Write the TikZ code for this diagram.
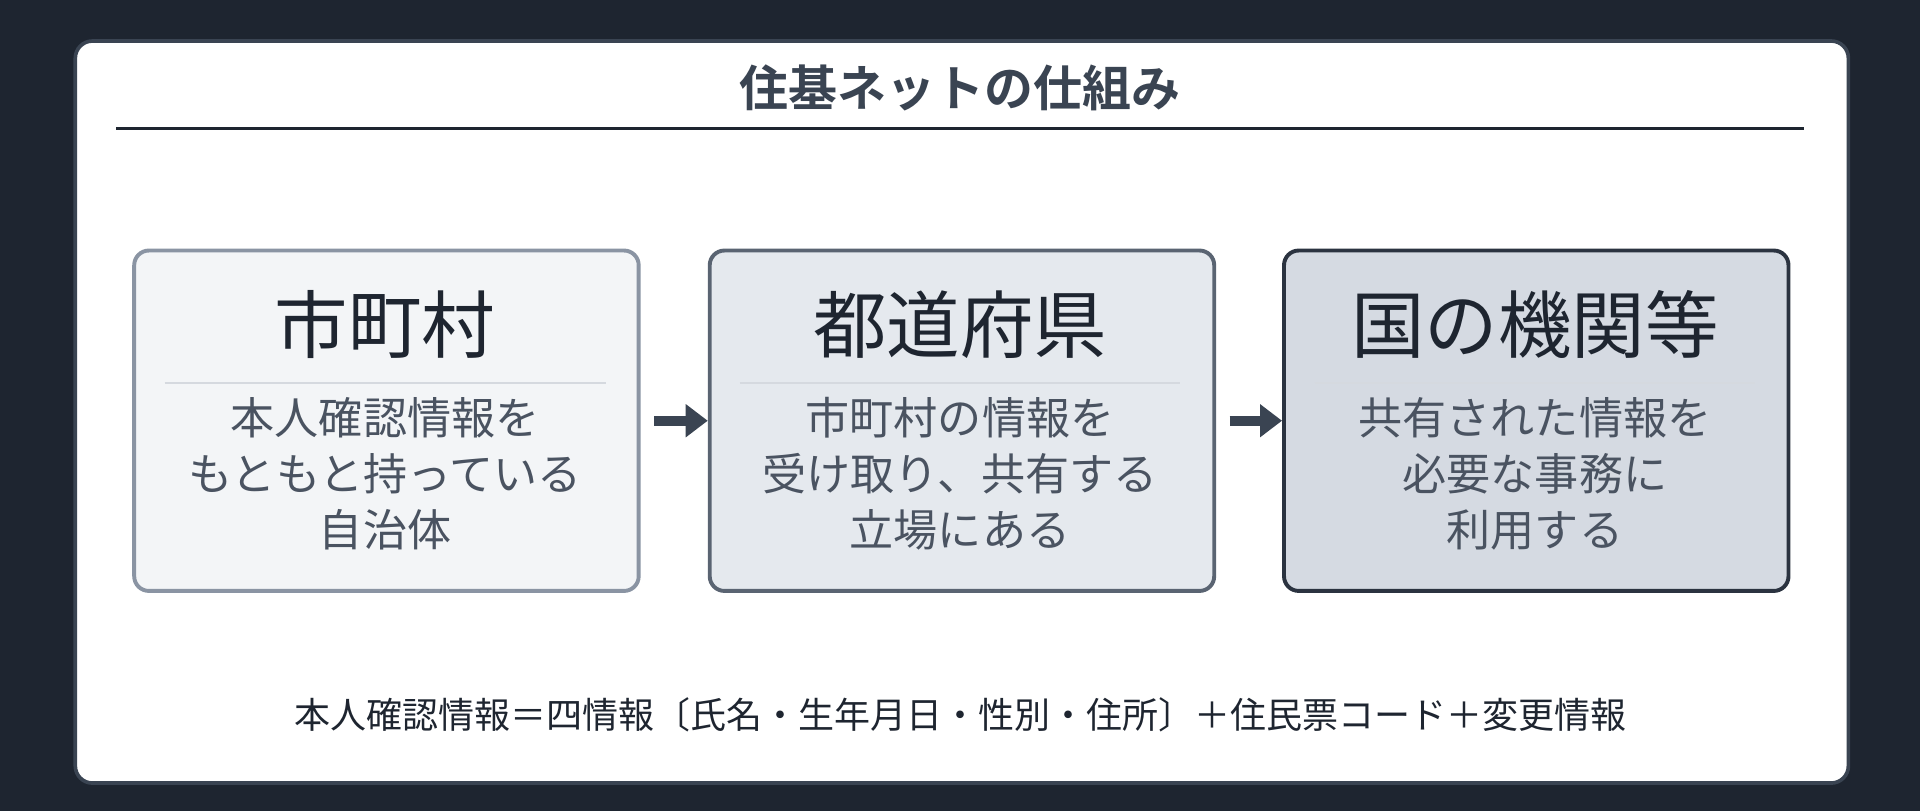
\documentclass[tikz,border=0pt]{standalone}
\usepackage{fontspec}
\setmainfont{Noto Sans CJK JP}
\newfontfamily\cjkb{Noto Sans CJK JP}[BoldFont={Noto Sans CJK JP Bold}]
\usetikzlibrary{arrows.meta}
\definecolor{bg}{HTML}{1E2530}
\definecolor{cardb}{HTML}{3A4452}
\definecolor{txt}{HTML}{1E2530}
\definecolor{body}{HTML}{4A5361}
\definecolor{sep}{HTML}{D5D9DF}
\begin{document}
\begin{tikzpicture}[x=0.5pt,y=-0.5pt,
 box/.style={draw,line width=1.6pt,rounded corners=6pt,minimum width=206pt,minimum height=139pt,anchor=north west},
 ttl/.style={font=\fontsize{30}{36}\selectfont,text=txt},
 bdy/.style={font=\fontsize{18}{23}\selectfont,text=body,align=center},
 arr/.style={-{Triangle[length=9pt,width=13pt]},line width=4pt,draw=cardb}]
\useasboundingbox (0,0) rectangle (1568,662);
\fill[bg] (0,0) rectangle (1568,662);
\node[draw=cardb,fill=white,line width=1.5pt,rounded corners=7pt,minimum width=724pt,minimum height=303pt,anchor=north west] (card) at (60,32) {};
\node[font=\cjkb\bfseries\fontsize{20}{24}\selectfont,text=cardb] (title) at (784,72) {住基ネットの仕組み};
\coordinate (l1) at (95,105); \coordinate (l2) at (1473,105);
\draw[txt,line width=1pt] (l1) -- (l2);
\node[box,draw={rgb,255:red,138;green,148;blue,163},fill={rgb,255:red,243;green,245;blue,247}] (b1) at (108,203) {};
\node[box,draw={rgb,255:red,90;green,100;blue,114},fill={rgb,255:red,229;green,233;blue,238}] (b2) at (578,203) {};
\node[box,draw={rgb,255:red,43;green,51;blue,64},fill={rgb,255:red,213;green,218;blue,226}] (b3) at (1047,203) {};
\foreach \b/\x/\t/\s in {b1/314.5/市町村/{本人確認情報を\\もともと持っている\\自治体},b2/784/都道府県/{市町村の情報を\\受け取り、共有する\\立場にある},b3/1253.5/国の機関等/{共有された情報を\\必要な事務に\\利用する}}{
 \node[ttl] (\b t) at (\x,265) {\t};
 \coordinate (\b p) at (\x-180,313); \coordinate (\b q) at (\x+180,313);
 \draw[sep,line width=1pt] (\b p) -- (\b q);
 \node[bdy] (\b s) at (\x,387) {\s};
}
\draw[arr] ([xshift=5.5pt]b1.east) -- (b2.west);
\draw[arr] ([xshift=5.5pt]b2.east) -- (b3.west);
\node[font=\fontsize{14.7}{18}\selectfont,text=txt] (note) at (784,584) {本人確認情報＝四情報〔氏名・生年月日・性別・住所〕＋住民票コード＋変更情報};
\end{tikzpicture}
\end{document}
